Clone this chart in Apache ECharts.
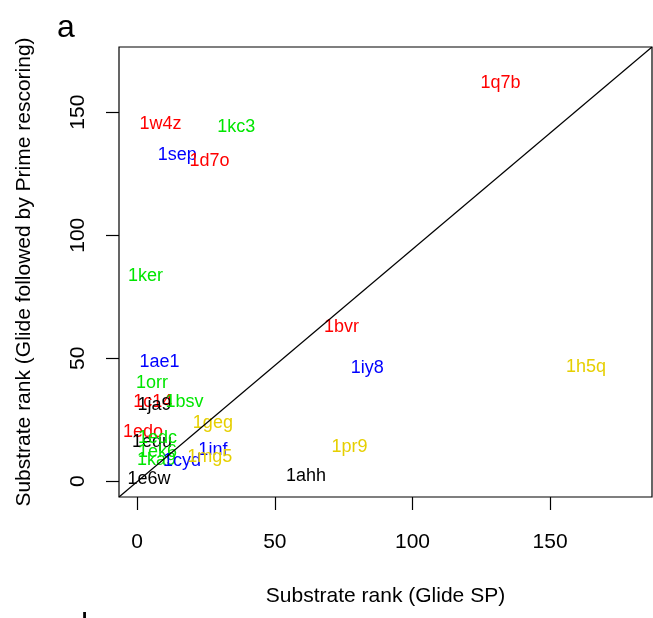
<!DOCTYPE html>
<html>
<head>
<meta charset="utf-8">
<script src="https://cdn.jsdelivr.net/npm/echarts@6/dist/echarts.min.js"></script>
<style>
  html, body { margin: 0; padding: 0; background: #fff; }
  #chart { width: 653px; height: 618px; }
</style>
</head>
<body>
<div id="chart"></div>
<script>
// structure ids, in drawing order
const ids = ['1q7b', '1w4z', '1kc3', '1sep', '1d7o', '1ker', '1bvr', '1iy8', '1h5q', '1pr9',
  '1ahh', '1ae1', '1orr', '1c14', '1ja9', '1bsv', '1edo', '1equ', '1edc', '1ek6',
  '1ka9', '1cyd', '1inf', '1mg5', '1geg', '1e6w'];
// rank with Glide SP (x)
const glideSP = [132, 8.5, 36, 14.6, 26.3, 3, 74.2, 83.6, 163, 77.1,
  61.3, 8.1, 5.4, 5.7, 6.3, 17.2, 2.1, 5.4, 7.4, 7.4,
  7, 16.3, 27.5, 26.4, 27.5, 4.3];
// rank with Glide followed by Prime rescoring (y)
const primeRank = [162, 145.2, 144.1, 132.4, 130.2, 83.5, 62.6, 45.9, 46.6, 14.1,
  2.3, 48.6, 39.8, 32.4, 31, 32, 20.2, 16.1, 17.6, 12,
  8.7, 8.1, 12.7, 10, 23.6, 0.8];
// colour group of each label
const groups = ['red', 'red', 'green', 'blue', 'red', 'green', 'red', 'blue', 'gold', 'gold',
  'black', 'blue', 'green', 'red', 'black', 'green', 'red', 'black', 'green', 'green',
  'green', 'blue', 'blue', 'gold', 'gold', 'black'];
const xTicks = [0, 50, 100, 150];
const yTicks = [0, 50, 100, 150];
const xRange = [-6.6, 187];
const yRange = [-6.4, 176.5];
// corner-to-corner reference line
const diagLine = [[xRange[0], yRange[0]], [xRange[1], yRange[1]]];

const palette = { red: '#ff0000', green: '#00e600', blue: '#0000ff', gold: '#e6cf00', black: '#000000' };
const font = 'Liberation Sans, Arial, sans-serif';

const points = ids.map((id, i) => ({
  value: [glideSP[i], primeRank[i]],
  name: id,
  label: { color: palette[groups[i]] }
}));

const chart = echarts.init(document.getElementById('chart'), null, { renderer: 'canvas' });
chart.setOption({
  animation: false,
  grid: { left: 119, right: 1, top: 47, bottom: 121, show: true, borderColor: '#000', borderWidth: 1.2 },
  xAxis: {
    type: 'value', min: xRange[0], max: xRange[1],
    name: 'Substrate rank (Glide SP)', nameLocation: 'middle', nameGap: 89,
    nameTextStyle: { fontSize: 21, color: '#000', fontFamily: font },
    axisLine: { show: false, onZero: false },
    axisTick: { show: true, inside: false, length: 13, lineStyle: { color: '#000', width: 1.2 }, customValues: xTicks },
    axisLabel: { fontSize: 21, color: '#000', fontFamily: font, margin: 35, customValues: xTicks },
    splitLine: { show: false }
  },
  yAxis: {
    type: 'value', min: yRange[0], max: yRange[1],
    name: 'Substrate rank (Glide followed by Prime rescoring)', nameLocation: 'middle', nameGap: 84,
    nameTextStyle: { fontSize: 21, color: '#000', fontFamily: font },
    axisLine: { show: false, onZero: false },
    axisTick: { show: true, inside: false, length: 13, lineStyle: { color: '#000', width: 1.2 }, customValues: yTicks },
    axisLabel: { fontSize: 21, color: '#000', fontFamily: font, margin: 30, rotate: 90, customValues: yTicks },
    splitLine: { show: false }
  },
  graphic: [
    { type: 'text', left: 57, top: 12, style: { text: 'a', fontSize: 32, fill: '#000', fontFamily: font } },
    { type: 'text', left: 81, top: 610, style: { text: 'b', fontSize: 32, fill: '#000', fontFamily: font } }
  ],
  series: [
    {
      type: 'line', data: diagLine, showSymbol: false, silent: true,
      lineStyle: { color: '#000', width: 1.2 }
    },
    {
      type: 'scatter', data: points, symbolSize: 0,
      itemStyle: { opacity: 1 },
      label: {
        show: true, position: 'inside', formatter: '{b}',
        fontSize: 18, fontFamily: font, opacity: 1
      }
    }
  ]
});
</script>
</body>
</html>
